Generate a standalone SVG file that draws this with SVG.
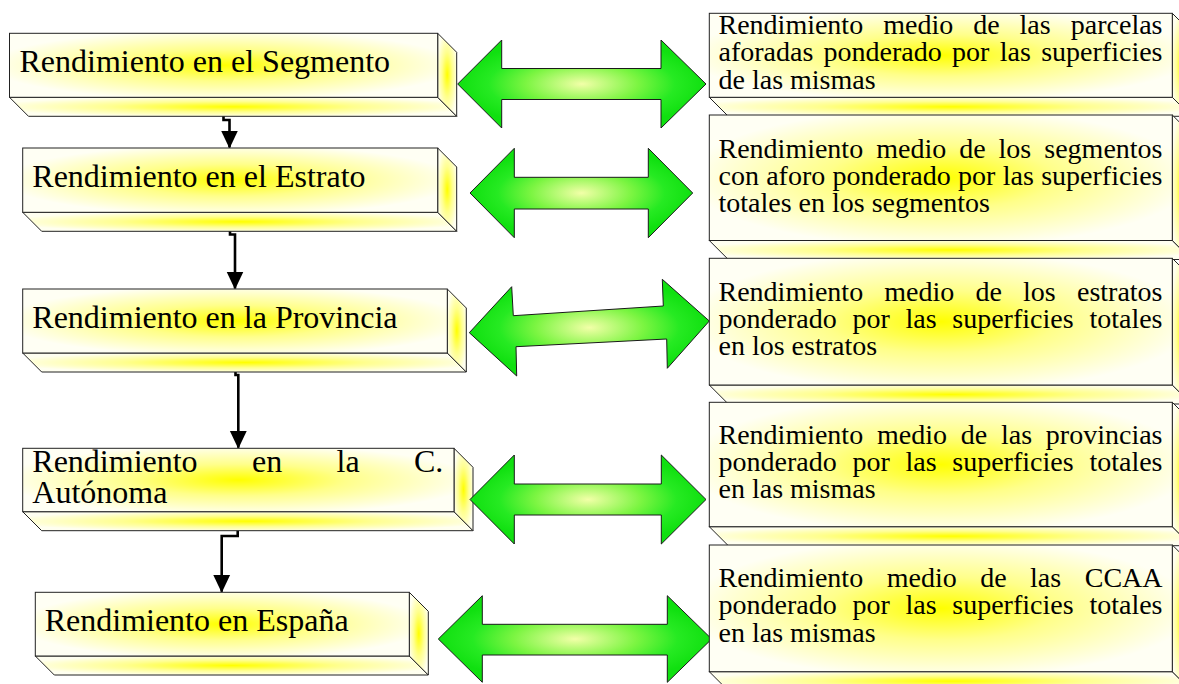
<svg xmlns="http://www.w3.org/2000/svg" width="1179" height="684" viewBox="0 0 1179 684">
<style>
.face{stroke:#222;stroke-width:1;stroke-linejoin:miter}
.front{fill:url(#gFront)}
.bot{fill:url(#gBot)}
.side{fill:url(#gSide)}
.arr{fill:url(#gArrow);stroke:#1a1a1a;stroke-width:1;stroke-linejoin:miter}
.con{fill:none;stroke:#000;stroke-width:2.6;marker-end:url(#head)}
.lt{font-size:32px;font-family:'Liberation Serif','DejaVu Serif',serif;fill:#000}
.rt{font-size:28px;font-family:'Liberation Serif','DejaVu Serif',serif;fill:#000}
.e{text-anchor:end}
</style>
<defs>
<radialGradient id="gFront" cx="0.5" cy="0.5" r="0.55">
<stop offset="0" stop-color="#FFFF00"/>
<stop offset="0.45" stop-color="#FFFF8A"/>
<stop offset="1" stop-color="#FFFFF4"/>
</radialGradient>
<radialGradient id="gBot" cx="0.5" cy="0.5" r="0.55">
<stop offset="0" stop-color="#FFFF00"/>
<stop offset="0.5" stop-color="#FFFF90"/>
<stop offset="1" stop-color="#FFFFF0"/>
</radialGradient>
<radialGradient id="gSide" cx="0.5" cy="0.5" r="0.55">
<stop offset="0" stop-color="#FFFF00"/>
<stop offset="0.5" stop-color="#FFFF90"/>
<stop offset="1" stop-color="#FFFFF0"/>
</radialGradient>
<radialGradient id="gArrow" cx="0.5" cy="0.5" r="0.5">
<stop offset="0" stop-color="#F2FFA8"/>
<stop offset="0.45" stop-color="#7CF542"/>
<stop offset="0.75" stop-color="#26EA22"/>
<stop offset="1" stop-color="#10E010"/>
</radialGradient>
<marker id="head" markerUnits="userSpaceOnUse" markerWidth="18" markerHeight="18" viewBox="0 0 17 16" refX="16" refY="8" orient="auto">
<path d="M0,0 L17,8 L0,16 Z" fill="#000"/>
</marker>
</defs>

<g id="connectors">
<path class="con" d="M223.5,97.3 V120 H229.5 V147.5"/>
<path class="con" d="M230,212.3 V234.5 H235 V288.5"/>
<path class="con" d="M235.5,353 V375 H238.3 V447.8"/>
<path class="con" d="M237.7,511.7 V536 H221.7 V591.8"/>
</g>

<g id="left-segmento">
<polygon class="face bot" points="9.5,97.3 437.7,97.3 456.7,116.3 28.5,116.3"/>
<polygon class="face side" points="437.7,33.3 456.7,52.3 456.7,116.3 437.7,97.3"/>
<rect class="face front" x="9.5" y="33.3" width="428.2" height="64"/>
<text class="lt" font-family="Liberation Serif" x="19.5" y="71.7">Rendimiento en el Segmento</text>
</g>

<g id="left-estrato">
<polygon class="face bot" points="22.7,212.3 437.7,212.3 456.7,231.3 41.7,231.3"/>
<polygon class="face side" points="437.7,148 456.7,167 456.7,231.3 437.7,212.3"/>
<rect class="face front" x="22.7" y="148" width="415" height="64.3"/>
<text class="lt" font-family="Liberation Serif" x="32.3" y="186.7">Rendimiento en el Estrato</text>
</g>

<g id="left-provincia">
<polygon class="face bot" points="22.7,353 447.3,353 466.3,372 41.7,372"/>
<polygon class="face side" points="447.3,289 466.3,308 466.3,372 447.3,353"/>
<rect class="face front" x="22.7" y="289" width="424.6" height="64"/>
<text class="lt" font-family="Liberation Serif" x="32.3" y="328.3">Rendimiento en la Provincia</text>
</g>

<g id="left-autonoma">
<polygon class="face bot" points="22.7,511.7 454,511.7 473,530.7 41.7,530.7"/>
<polygon class="face side" points="454,448.3 473,467.3 473,530.7 454,511.7"/>
<rect class="face front" x="22.7" y="448.3" width="431.3" height="63.4"/>
<text class="lt" font-family="Liberation Serif" y="472.3"><tspan x="32.3">Rendimiento</tspan><tspan x="252">en</tspan><tspan x="336.5">la</tspan><tspan class="e" x="443.3">C.</tspan></text>
<text class="lt" font-family="Liberation Serif" x="32.3" y="502.7">Autónoma</text>
</g>

<g id="left-espana">
<polygon class="face bot" points="35.3,656 409.3,656 428.3,675 54.3,675"/>
<polygon class="face side" points="409.3,592.3 428.3,611.3 428.3,675 409.3,656"/>
<rect class="face front" x="35.3" y="592.3" width="374" height="63.7"/>
<text class="lt" font-family="Liberation Serif" x="44.7" y="631">Rendimiento en España</text>
</g>

<g id="arrow-1">
<polygon class="arr" points="457.7,84 501.7,40 501.7,68.5 661,68.5 661,40 706,84 661,128 661,99.5 501.7,99.5 501.7,128"/>
</g>
<g id="arrow-2">
<polygon class="arr" points="470,193 514.3,148.3 514.3,177.3 648.3,177.3 648.3,148.3 692.7,193 648.3,237.7 648.3,209 514.3,209 514.3,237.7"/>
</g>
<g id="arrow-3">
<polygon class="arr" points="469.3,332.7 511.7,286.7 513.3,315.7 663.3,306 662.3,279.3 709.3,321 667.3,368.3 666.7,339 516,346.7 516.7,376"/>
</g>
<g id="arrow-4">
<polygon class="arr" points="470,499.5 514.3,455 514.3,484 661.3,484 661.3,455 706,499.5 661.3,544 661.3,515 514.3,515 514.3,544"/>
</g>
<g id="arrow-5">
<polygon class="arr" points="438.3,639 482.3,595.7 482.3,624.3 667.3,624.3 667.3,595.7 711.7,639 667.3,682.3 667.3,655 482.3,655 482.3,682.3"/>
</g>

<g id="right-parcelas">
<polygon class="face bot" points="709.3,97.3 1172.3,97.3 1191.3,116.3 728.3,116.3"/>
<polygon class="face side" points="1172.3,13.3 1191.3,32.3 1191.3,116.3 1172.3,97.3"/>
<rect class="face front" x="709.3" y="13.3" width="463" height="84"/>
<text class="rt" font-family="Liberation Serif" y="33.5"><tspan x="718.5">Rendimiento</tspan><tspan x="883.2">medio</tspan><tspan x="973.2">de</tspan><tspan x="1019.6">las</tspan><tspan class="e" x="1162.5">parcelas</tspan></text>
<text class="rt" font-family="Liberation Serif" y="61.3"><tspan x="718.5">aforadas</tspan><tspan x="823.6">ponderado</tspan><tspan x="952.1">por</tspan><tspan x="999.8">las</tspan><tspan class="e" x="1162.5">superficies</tspan></text>
<text class="rt" font-family="Liberation Serif" x="718.5" y="89">de las mismas</text>
</g>

<g id="right-segmentos">
<polygon class="face bot" points="709.3,240.5 1172.3,240.5 1191.3,259.5 728.3,259.5"/>
<polygon class="face side" points="1172.3,115 1191.3,134 1191.3,259.5 1172.3,240.5"/>
<rect class="face front" x="709.3" y="115" width="463" height="125.5"/>
<text class="rt" font-family="Liberation Serif" y="157.7"><tspan x="718.5">Rendimiento</tspan><tspan x="876.2">medio</tspan><tspan x="959.2">de</tspan><tspan x="998.6">los</tspan><tspan class="e" x="1162.5">segmentos</tspan></text>
<text class="rt" font-family="Liberation Serif" y="184.7"><tspan x="718.5">con</tspan><tspan x="766.2">aforo</tspan><tspan x="832.6">ponderado</tspan><tspan x="958.1">por</tspan><tspan x="1002.8">las</tspan><tspan class="e" x="1162.5">superficies</tspan></text>
<text class="rt" font-family="Liberation Serif" x="718.5" y="211.9">totales en los segmentos</text>
</g>

<g id="right-estratos">
<polygon class="face bot" points="709.3,385 1172.3,385 1191.3,404 728.3,404"/>
<polygon class="face side" points="1172.3,258.3 1191.3,277.3 1191.3,404 1172.3,385"/>
<rect class="face front" x="709.3" y="258.3" width="463" height="126.7"/>
<text class="rt" font-family="Liberation Serif" y="300.7"><tspan x="718.5">Rendimiento</tspan><tspan x="884.3">medio</tspan><tspan x="975.5">de</tspan><tspan x="1023.1">los</tspan><tspan class="e" x="1162.5">estratos</tspan></text>
<text class="rt" font-family="Liberation Serif" y="327.9"><tspan x="718.5">ponderado</tspan><tspan x="852.4">por</tspan><tspan x="905.5">las</tspan><tspan x="952.3">superficies</tspan><tspan class="e" x="1162.5">totales</tspan></text>
<text class="rt" font-family="Liberation Serif" x="718.5" y="355">en los estratos</text>
</g>

<g id="right-provincias">
<polygon class="face bot" points="709.3,526.7 1172.3,526.7 1191.3,545.7 728.3,545.7"/>
<polygon class="face side" points="1172.3,402.3 1191.3,421.3 1191.3,545.7 1172.3,526.7"/>
<rect class="face front" x="709.3" y="402.3" width="463" height="124.4"/>
<text class="rt" font-family="Liberation Serif" y="444.3"><tspan x="718.5">Rendimiento</tspan><tspan x="877">medio</tspan><tspan x="960.7">de</tspan><tspan x="1001">las</tspan><tspan class="e" x="1162.5">provincias</tspan></text>
<text class="rt" font-family="Liberation Serif" y="471.3"><tspan x="718.5">ponderado</tspan><tspan x="852.4">por</tspan><tspan x="905.5">las</tspan><tspan x="952.3">superficies</tspan><tspan class="e" x="1162.5">totales</tspan></text>
<text class="rt" font-family="Liberation Serif" x="718.5" y="498.4">en las mismas</text>
</g>

<g id="right-ccaa">
<polygon class="face bot" points="709.3,671.7 1172.3,671.7 1191.3,690.7 728.3,690.7"/>
<polygon class="face side" points="1172.3,545 1191.3,564 1191.3,690.7 1172.3,671.7"/>
<rect class="face front" x="709.3" y="545" width="463" height="126.7"/>
<text class="rt" font-family="Liberation Serif" y="586.7"><tspan x="718.5">Rendimiento</tspan><tspan x="886.7">medio</tspan><tspan x="980.2">de</tspan><tspan x="1030.1">las</tspan><tspan class="e" x="1162.5">CCAA</tspan></text>
<text class="rt" font-family="Liberation Serif" y="614.2"><tspan x="718.5">ponderado</tspan><tspan x="852.4">por</tspan><tspan x="905.5">las</tspan><tspan x="952.3">superficies</tspan><tspan class="e" x="1162.5">totales</tspan></text>
<text class="rt" font-family="Liberation Serif" x="718.5" y="641.6">en las mismas</text>
</g>
</svg>
